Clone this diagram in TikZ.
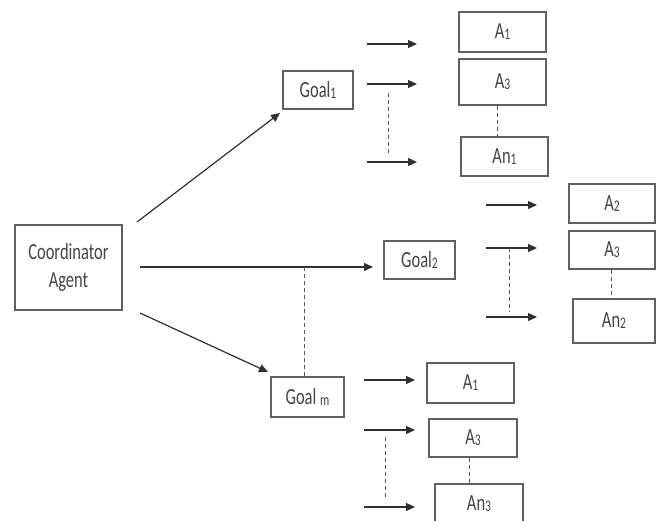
\documentclass[tikz,border=0pt]{standalone}
\usepackage{fontspec}
\setmainfont{Carlito}
\usetikzlibrary{arrows.meta}
\definecolor{boxline}{HTML}{606060}
\definecolor{txt}{HTML}{454545}
\definecolor{arr}{HTML}{303030}
\newcommand\vt[1]{\scalebox{1}[1.4]{#1}}
\newcommand\sbx[1]{\raisebox{-0.08ex}{\scalebox{0.7}{#1}}}
\begin{document}
\begin{tikzpicture}[x=1pt,y=-1pt,
  bx/.style={draw=boxline,line width=1.2pt,inner sep=0pt,text=txt,
    font=\fontsize{16.5}{28}\selectfont,align=center},
  arw/.style={draw=arr,line width=1.2pt,-{Triangle[length=9pt,width=8pt]}},
  dsh/.style={draw=arr!80,line width=0.9pt,dash pattern=on 4pt off 3pt}]
\useasboundingbox (0,0) rectangle (656,521);
% boxes
\node[bx,minimum width=107pt,minimum height=85pt] (coord) at (68.5,267.5) {\vt{Coordinator}\\\vt{Agent}};
\node[bx,minimum width=70pt,minimum height=38pt] (g1) at (318,90) {\vt{Goal\sbx{1}}};
\node[bx,minimum width=71pt,minimum height=38pt] (g2) at (419.5,260) {\vt{Goal\sbx{2}}};
\node[bx,minimum width=73pt,minimum height=40pt] (gm) at (307.5,397) {\vt{Goal \sbx{m}}};
\node[bx,minimum width=87pt,minimum height=40pt] (a1a) at (502.5,32) {\vt{A\sbx{1}}};
\node[bx,minimum width=87pt,minimum height=46pt] (a3a) at (502.5,82) {\vt{A\sbx{3}}};
\node[bx,minimum width=87pt,minimum height=39pt] (ana) at (504.5,156.5) {\vt{An\sbx{1}}};
\node[bx,minimum width=86pt,minimum height=39pt] (a2b) at (612,203.5) {\vt{A\sbx{2}}};
\node[bx,minimum width=86pt,minimum height=38pt] (a3b) at (612,250) {\vt{A\sbx{3}}};
\node[bx,minimum width=82pt,minimum height=44pt] (anb) at (614,321) {\vt{An\sbx{2}}};
\node[bx,minimum width=87pt,minimum height=40pt] (a1c) at (470.5,383) {\vt{A\sbx{1}}};
\node[bx,minimum width=88pt,minimum height=38pt] (a3c) at (473,438) {\vt{A\sbx{3}}};
\node[bx,minimum width=88pt,minimum height=40pt] (anc) at (479,504) {\vt{An\sbx{3}}};
% coordinator arrows
\coordinate (c1s) at (137,222); \coordinate (c1e) at (280,113);
\coordinate (c2s) at (140,267); \coordinate (c2e) at (373,267);
\coordinate (c3s) at (140,313); \coordinate (c3e) at (268,372);
\draw[arw] (c1s) -- (c1e);
\draw[arw] (c2s) -- (c2e);
\draw[arw] (c3s) -- (c3e);
\draw[dsh] (gm.north -| 304,0) -- (304,267);
% goal 1 arrows
\foreach \y [count=\i] in {44,84,162}{
  \coordinate (p1s\i) at (367,\y); \coordinate (p1e\i) at (417,\y);
  \draw[arw] (p1s\i) -- (p1e\i);}
\draw[dsh] (388,93) -- (388,155);
\draw[dsh] (a3a.south -| 497,0) -- (ana.north -| 497,0);
% goal 2 arrows
\foreach \y [count=\i] in {205,248,317}{
  \coordinate (p2s\i) at (486,\y); \coordinate (p2e\i) at (537,\y);
  \draw[arw] (p2s\i) -- (p2e\i);}
\draw[dsh] (509,248) -- (509,312);
\draw[dsh] (a3b.south -| 611,0) -- (anb.north -| 611,0);
% goal m arrows
\foreach \y [count=\i] in {380,430,507}{
  \coordinate (p3s\i) at (364,\y); \coordinate (p3e\i) at (415,\y);
  \draw[arw] (p3s\i) -- (p3e\i);}
\draw[dsh] (385,437) -- (385,500);
\draw[dsh] (a3c.south -| 469,0) -- (anc.north -| 469,0);
\end{tikzpicture}
\end{document}
